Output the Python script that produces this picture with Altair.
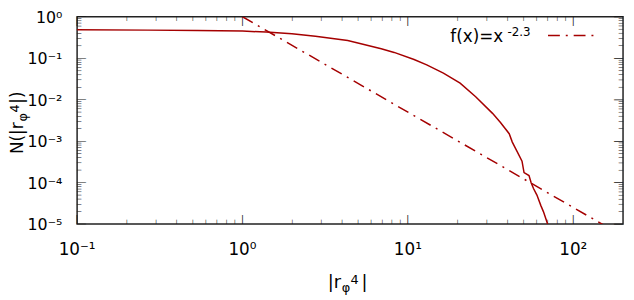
import altair as alt
import pandas as pd

# ---- data ----
curve_x = [0.1, 0.268, 0.532, 1.0, 1.39, 1.99, 2.76, 4.33, 6.90, 8.26, 10.9, 13.0, 16.4,
           20.7, 25.7, 32.5, 36.3, 41.0, 42.8, 45.8, 49.0, 50.4, 54.0, 55.7, 57.5, 60.3,
           63.8, 66.0, 70.0]
curve_y = [0.484, 0.476, 0.465, 0.452, 0.427, 0.389, 0.339, 0.269, 0.170, 0.138, 0.0933,
           0.0692, 0.0437, 0.0251, 0.01175, 0.00468, 0.00282, 0.00151, 9.5e-4, 5.6e-4,
           3.3e-4, 1.74e-4, 1.48e-4, 9.8e-5, 7.2e-5, 5.0e-5, 2.75e-5, 2.0e-5, 1.0e-5]
fit_x = [1.0, 200.0]
fit_y = [1.0, 5.1e-6]

x_major = [0.1, 1, 10, 100]
x_major_labels = ["10⁻¹", "10⁰", "10¹", "10²"]
y_major = [1, 0.1, 0.01, 1e-3, 1e-4, 1e-5]
y_major_labels = ["10⁰", "10⁻¹", "10⁻²", "10⁻³", "10⁻⁴", "10⁻⁵"]
x_minor = [k * d for d in [0.1, 1, 10] for k in range(2, 10)]
y_minor = [k * d for d in [1e-5, 1e-4, 1e-3, 1e-2, 1e-1] for k in range(2, 10)]

legend_text = "f(x)=x"
legend_exp = "-2.3"
x_title_parts = ["|r", "φ", "4", "|"]
y_title_parts = ["N(|r", "φ", "4", "|)"]

W, H = 553, 210
RED = "#a50000"
FONT = "DejaVu Sans"
MAJ, MIN = 9, 4.5

xs = alt.Scale(type="log", domain=[0.1, 200])
ys = alt.Scale(type="log", domain=[1e-5, 1])

curve = alt.Chart(pd.DataFrame({"x": curve_x, "y": curve_y})).mark_line(
    color=RED, strokeWidth=1.5, clip=True
).encode(x=alt.X("x:Q", scale=xs, axis=None), y=alt.Y("y:Q", scale=ys, axis=None))

fit = alt.Chart(pd.DataFrame({"x": fit_x, "y": fit_y})).mark_line(
    color=RED, strokeWidth=1.5, strokeDash=[12, 6, 2, 6], clip=True
).encode(x=alt.X("x:Q", scale=xs, axis=None), y=alt.Y("y:Q", scale=ys, axis=None))

xmaj_df = pd.DataFrame({"x": x_major, "lab": x_major_labels})
ymaj_df = pd.DataFrame({"y": y_major, "lab": y_major_labels})

# inward ticks drawn as bar glyphs placed through the scales
BAR = "|"
DESC, ASC = 0.236, 0.76  # glyph extent below / above the baseline, in em
BLACK = alt.value("#111111")


def xticks(vals, L, weight):
    df = pd.DataFrame({"x": vals, "g": [BAR] * len(vals)})
    out = []
    for yv in [H - DESC * L, ASC * L]:
        out.append(alt.Chart(df).mark_text(
            font=FONT, fontSize=L, fontWeight=weight, baseline="alphabetic", align="center",
            fill="#111111"
        ).encode(x=alt.X("x:Q", scale=xs, axis=None), y=alt.value(yv), text="g:N",
                 color=BLACK, fill=BLACK))
    return out


def yticks(vals, L, weight):
    df = pd.DataFrame({"y": vals, "g": [BAR] * len(vals)})
    out = []
    for xv, ang in [(DESC * L, 90), (W - DESC * L, 270)]:
        out.append(alt.Chart(df).mark_text(
            font=FONT, fontSize=L, fontWeight=weight, baseline="alphabetic", align="center",
            angle=ang, fill="#111111"
        ).encode(y=alt.Y("y:Q", scale=ys, axis=None), x=alt.value(xv), text="g:N",
                 color=BLACK, fill=BLACK))
    return out


xlabels = alt.Chart(xmaj_df).mark_text(
    font=FONT, fontSize=17, baseline="alphabetic", align="center", color="#000"
).encode(x=alt.X("x:Q", scale=xs, axis=None), y=alt.value(H + 31), text="lab:N")

ylabels = alt.Chart(ymaj_df).mark_text(
    font=FONT, fontSize=16, baseline="alphabetic", align="right", dy=6, color="#000"
).encode(y=alt.Y("y:Q", scale=ys, axis=None), x=alt.value(-15), text="lab:N")


def piece(txt, size, x, y, angle=0):
    return alt.Chart(pd.DataFrame({"t": [txt]})).mark_text(
        font=FONT, fontSize=size, baseline="alphabetic", align="left", angle=angle, color="#000"
    ).encode(x=alt.value(x), y=alt.value(y), text="t:N")


xb = H + 65
xtitle = [
    piece(x_title_parts[0], 18, 254, xb),
    piece(x_title_parts[1], 13, 268, xb + 4),
    piece(x_title_parts[2], 13, 277, xb - 4),
    piece(x_title_parts[3], 18, 288, xb),
]
yb = -55
y0 = H / 2 + 34
ytitle = [
    piece(y_title_parts[0], 17, yb, y0, 270),
    piece(y_title_parts[1], 13, yb + 4, y0 - 33, 270),
    piece(y_title_parts[2], 13, yb - 4, y0 - 42, 270),
    piece(y_title_parts[3], 17, yb, y0 - 51, 270),
]

leg1 = piece(legend_text, 17, 378, 26)
leg2 = piece(legend_exp, 12, 436, 19)
legline = alt.Chart(pd.DataFrame({"t": [legend_text]})).mark_rule(
    color=RED, strokeWidth=1.5, strokeDash=[12, 6, 2, 6]
).encode(x=alt.value(477), x2=alt.value(527), y=alt.value(19))

layers = xticks(x_major, MAJ, "normal") + xticks(x_minor, MIN, "bold") + \
    yticks(y_major, MAJ, "normal") + yticks(y_minor, MIN, "bold") + \
    [curve, fit, xlabels, ylabels] + xtitle + ytitle + [leg1, leg2, legline]

chart = alt.layer(*layers).properties(
    width=W, height=H,
    autosize=alt.AutoSizeParams(type="none"),
    padding={"left": 70, "top": 7, "right": 3, "bottom": 73},
    background="white",
).configure_view(stroke="#222", strokeWidth=1.5)

chart.save("out.html", embed_options={"renderer": "svg", "actions": False})
